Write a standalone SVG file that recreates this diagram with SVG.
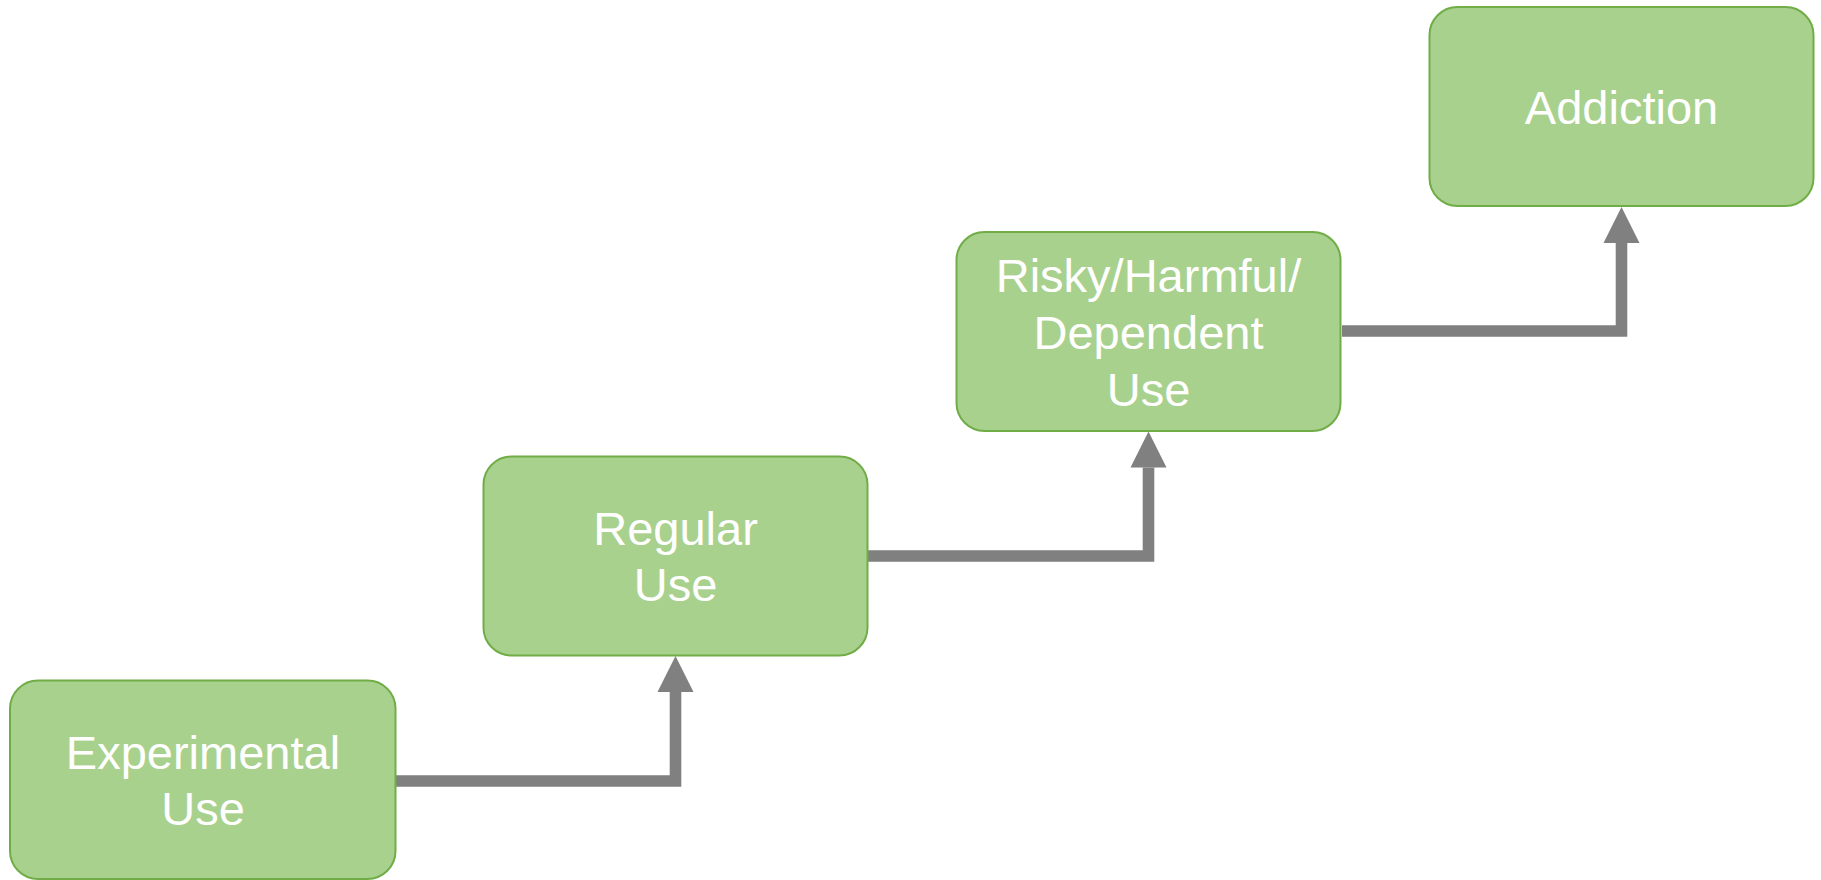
<svg xmlns="http://www.w3.org/2000/svg" width="1821" height="880" viewBox="0 0 1821 880">
  <style>
    .box { fill: #A9D18E; stroke: #70AD47; stroke-width: 2; }
    .lbl { font-family: "Liberation Sans", Arial, sans-serif; font-size: 47px; fill: #FFFFFF; text-anchor: middle; }
    .conn { fill: none; stroke: #808080; stroke-width: 11.6; stroke-linejoin: miter; stroke-linecap: butt; }
  </style>
  <defs>
    <marker id="arrow" markerUnits="userSpaceOnUse" markerWidth="36" markerHeight="36" viewBox="0 -18 36 36" refX="0" refY="0" orient="auto" overflow="visible">
      <path d="M0,-18 L36,0 L0,18 Z" fill="#808080"/>
    </marker>
  </defs>
  <rect width="1821" height="880" fill="#FFFFFF"/>
  <g id="connectors">
    <path class="conn" d="M 396 781 H 675.5 V 692" marker-end="url(#arrow)"/>
    <path class="conn" d="M 868 556 H 1148.5 V 467.5" marker-end="url(#arrow)"/>
    <path class="conn" d="M 1342 331 H 1621.5 V 243" marker-end="url(#arrow)"/>
  </g>
  <g id="node-experimental">
    <rect class="box" x="10" y="680.5" width="385.5" height="198.5" rx="28" ry="28"/>
    <text class="lbl" x="203" y="769">Experimental</text>
    <text class="lbl" x="203" y="825">Use</text>
  </g>
  <g id="node-regular">
    <rect class="box" x="483.5" y="456.5" width="384" height="199" rx="28" ry="28"/>
    <text class="lbl" x="675.5" y="545">Regular</text>
    <text class="lbl" x="675.5" y="601">Use</text>
  </g>
  <g id="node-risky">
    <rect class="box" x="956.5" y="232" width="384" height="199" rx="28" ry="28"/>
    <text class="lbl" x="1148.5" y="292">Risky/Harmful/</text>
    <text class="lbl" x="1148.5" y="349">Dependent</text>
    <text class="lbl" x="1148.5" y="406">Use</text>
  </g>
  <g id="node-addiction">
    <rect class="box" x="1429.5" y="7" width="384" height="199" rx="28" ry="28"/>
    <text class="lbl" x="1621.5" y="124">Addiction</text>
  </g>
</svg>
